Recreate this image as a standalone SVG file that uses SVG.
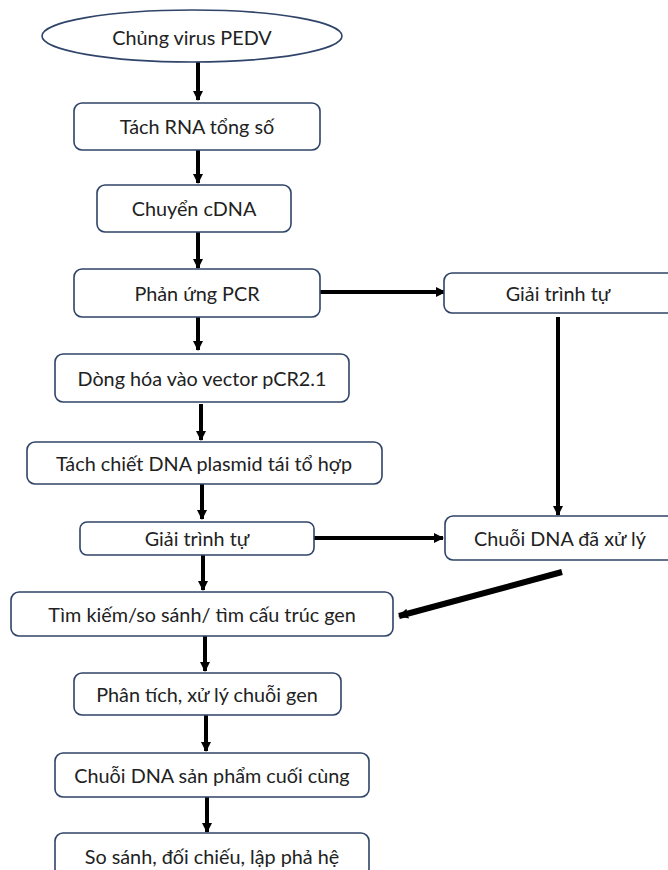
<svg xmlns="http://www.w3.org/2000/svg" width="668" height="870" viewBox="0 0 668 870">
<style>
.box{fill:#fff;stroke:#2f4468;stroke-width:1.6}
.t{font-family:Lato,"Open Sans","Liberation Sans",sans-serif;font-size:19.8px;fill:#222;text-anchor:middle;dominant-baseline:central}
.c{stroke:#000;stroke-width:4;fill:none}
</style>
<defs>
<marker id="ah" markerUnits="userSpaceOnUse" markerWidth="12" markerHeight="12" refX="9" refY="6" orient="auto">
<path d="M0,1 L10,6 L0,11 Z" fill="#000"/>
</marker>
</defs>
<rect width="668" height="870" fill="#fff"/>
<g id="connectors">
<line class="c" x1="198" y1="62" x2="198" y2="100" marker-end="url(#ah)"/>
<line class="c" x1="198" y1="150" x2="198" y2="183" marker-end="url(#ah)"/>
<line class="c" x1="198" y1="232" x2="198" y2="268" marker-end="url(#ah)"/>
<line class="c" x1="320" y1="292" x2="445" y2="292" marker-end="url(#ah)"/>
<line class="c" x1="198" y1="317" x2="198" y2="350" marker-end="url(#ah)"/>
<line class="c" x1="558" y1="317" x2="558" y2="515" marker-end="url(#ah)"/>
<line class="c" x1="201" y1="404" x2="201" y2="440" marker-end="url(#ah)"/>
<line class="c" x1="202" y1="484" x2="202" y2="519" marker-end="url(#ah)"/>
<line class="c" x1="314" y1="538" x2="443" y2="538" marker-end="url(#ah)"/>
<line class="c" x1="203" y1="555" x2="203" y2="590" marker-end="url(#ah)"/>
<line x1="562" y1="572" x2="399" y2="616" stroke="#000" stroke-width="6" marker-end="url(#ah)"/>
<line class="c" x1="205" y1="636" x2="205" y2="671" marker-end="url(#ah)"/>
<line class="c" x1="206" y1="715" x2="206" y2="751" marker-end="url(#ah)"/>
<line class="c" x1="207" y1="797" x2="207" y2="832" marker-end="url(#ah)"/>
</g>
<g id="n1"><ellipse class="box" cx="192" cy="36" rx="150" ry="26"/><text class="t" x="192" y="37">Chủng virus PEDV</text></g>
<g id="n2"><rect class="box" x="74" y="103" width="246" height="47" rx="8"/><text class="t" x="197" y="126">Tách RNA tổng số</text></g>
<g id="n3"><rect class="box" x="97" y="185" width="194" height="47" rx="8"/><text class="t" x="194" y="208">Chuyển cDNA</text></g>
<g id="n4"><rect class="box" x="74" y="269" width="246" height="48" rx="8"/><text class="t" x="197" y="293">Phản ứng PCR</text></g>
<g id="n5"><rect class="box" x="444" y="273" width="240" height="40" rx="8"/><text class="t" x="558" y="293">Giải trình tự</text></g>
<g id="n6"><rect class="box" x="55" y="354" width="294" height="48" rx="8"/><text class="t" x="202" y="378">Dòng hóa vào vector pCR2.1</text></g>
<g id="n7"><rect class="box" x="27" y="442" width="355" height="42" rx="8"/><text class="t" x="204" y="463">Tách chiết DNA plasmid tái tổ hợp</text></g>
<g id="n8"><rect class="box" x="80" y="522" width="234" height="33" rx="7"/><text class="t" x="197" y="538">Giải trình tự</text></g>
<g id="n9"><rect class="box" x="445" y="516" width="240" height="44" rx="8"/><text class="t" x="560" y="538">Chuỗi DNA đã xử lý</text></g>
<g id="n10"><rect class="box" x="11" y="592" width="382" height="44" rx="8"/><text class="t" x="202" y="614">Tìm kiếm/so sánh/ tìm cấu trúc gen</text></g>
<g id="n11"><rect class="box" x="74" y="673" width="267" height="42" rx="8"/><text class="t" x="207" y="694">Phân tích, xử lý chuỗi gen</text></g>
<g id="n12"><rect class="box" x="55" y="753" width="314" height="44" rx="8"/><text class="t" x="212" y="775">Chuỗi DNA sản phẩm cuối cùng</text></g>
<g id="n13"><rect class="box" x="55" y="833" width="314" height="60" rx="8"/><text class="t" x="212" y="856">So sánh, đối chiếu, lập phả hệ</text></g>
</svg>
